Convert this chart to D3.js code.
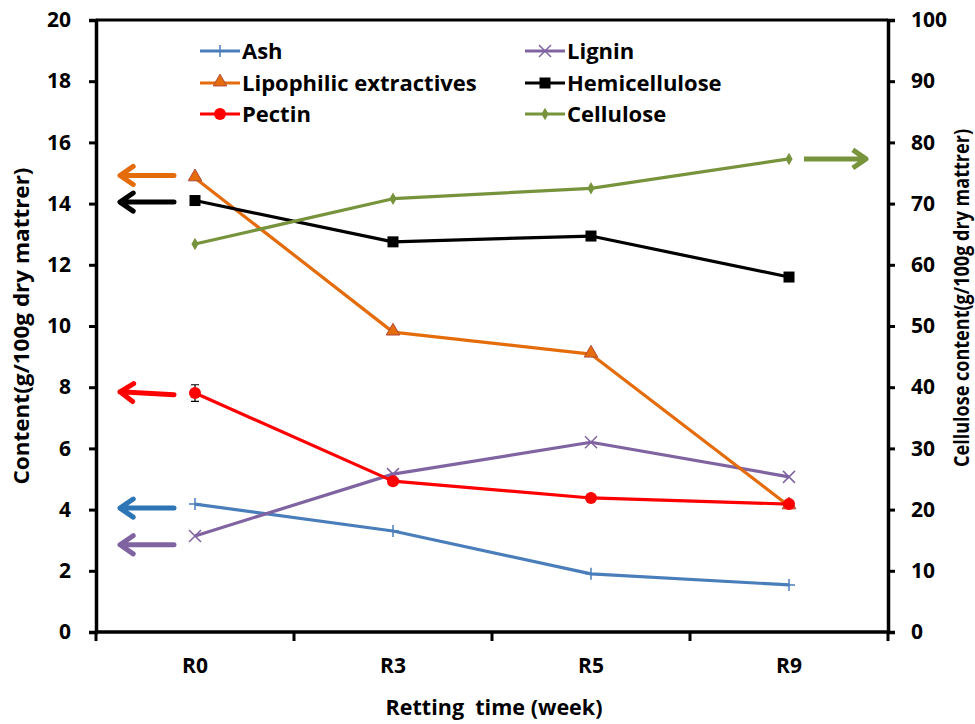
<!DOCTYPE html>
<html>
<head>
<meta charset="utf-8">
<script src="https://cdn.jsdelivr.net/npm/d3@7"></script>
<style>
  body { margin: 0; background: #fff; }
  svg text { font-family: "Open Sans", Lato, sans-serif; font-weight: bold; fill: #000; }
</style>
</head>
<body>
<div id="chart"></div>
<script>
var categories = ["R0", "R3", "R5", "R9"];
var ash = [4.18, 3.3, 1.9, 1.54];
var lignin = [3.14, 5.16, 6.2, 5.07];
var lipophilic = [14.84, 9.8, 9.08, 4.12];
var hemicellulose = [14.1, 12.75, 12.94, 11.6];
var pectin = [7.81, 4.93, 4.38, 4.18];
var pectinErr = [0.27, 0, 0, 0];
var cellulose = [63.4, 70.8, 72.5, 77.3];
var leftTicks = [0, 2, 4, 6, 8, 10, 12, 14, 16, 18, 20];
var rightTicks = [0, 10, 20, 30, 40, 50, 60, 70, 80, 90, 100];

// arrows next to the first / last points (value on the matching axis)
var leftArrows = [
    {color: "#E46C0A", from: 14.92, to: 14.92},
    {color: "#000000", from: 14.05, to: 14.05},
    {color: "#FF0000", from: 7.75, to: 7.85},
    {color: "#2E75B6", from: 4.05, to: 4.05},
    {color: "#8064A2", from: 2.85, to: 2.85}
];
var rightArrow = {color: "#77933C", value: 77.3};

var series = [
    {name: "Ash", values: ash, color: "#4A7EBB", symbol: "plus", axis: "left"},
    {name: "Lignin", values: lignin, color: "#8064A2", symbol: "cross", axis: "left"},
    {name: "Lipophilic extractives", values: lipophilic, color: "#E46C0A", symbol: "triangle", axis: "left"},
    {name: "Hemicellulose", values: hemicellulose, color: "#000000", symbol: "square", axis: "left"},
    {name: "Pectin", values: pectin, color: "#FF0000", symbol: "circle", axis: "left"},
    {name: "Cellulose", values: cellulose, color: "#77933C", symbol: "diamond", axis: "right"}
];

var width = 975, height = 724;
var margin = {top: 20, right: 87, bottom: 92, left: 96};

var svg = d3.select("#chart").append("svg")
    .attr("width", width)
    .attr("height", height);

var x = d3.scaleBand()
    .domain(categories)
    .range([margin.left, width - margin.right]);

var yLeft = d3.scaleLinear()
    .domain([0, 20])
    .range([height - margin.bottom, margin.top]);

var yRight = d3.scaleLinear()
    .domain([0, 100])
    .range([height - margin.bottom, margin.top]);

function cx(i) { return x(categories[i]) + x.bandwidth() / 2; }

// top border
svg.append("line")
    .attr("x1", margin.left).attr("x2", width - margin.right)
    .attr("y1", margin.top).attr("y2", margin.top)
    .attr("stroke", "#000").attr("stroke-width", 3);

// left axis
var gl = svg.append("g")
    .attr("transform", "translate(" + margin.left + ",0)")
    .call(d3.axisLeft(yLeft).tickValues(leftTicks).tickSize(7).tickPadding(18));
gl.select(".domain").attr("stroke-width", 3.5);
gl.selectAll(".tick line").attr("stroke-width", 3);
gl.selectAll(".tick text").style("font-size", "21px");

// right axis
var gr = svg.append("g")
    .attr("transform", "translate(" + (width - margin.right) + ",0)")
    .call(d3.axisRight(yRight).tickValues(rightTicks).tickSize(7).tickPadding(16));
gr.select(".domain").attr("stroke-width", 3.5);
gr.selectAll(".tick line").attr("stroke-width", 3);
gr.selectAll(".tick text").style("font-size", "21px");

// bottom axis: ticks between categories
var gb = svg.append("g")
    .attr("transform", "translate(0," + (height - margin.bottom) + ")");
gb.append("line")
    .attr("x1", margin.left).attr("x2", width - margin.right)
    .attr("stroke", "#000").attr("stroke-width", 3.5);
var bounds = categories.map(function (c) { return x(c); }).concat([x.range()[1]]);
gb.selectAll(".btick").data(bounds).enter().append("line")
    .attr("x1", function (d) { return d; }).attr("x2", function (d) { return d; })
    .attr("y1", 0).attr("y2", 9)
    .attr("stroke", "#000").attr("stroke-width", 3);
gb.selectAll(".blabel").data(categories).enter().append("text")
    .attr("x", function (d) { return x(d) + x.bandwidth() / 2; })
    .attr("y", 41)
    .attr("text-anchor", "middle")
    .style("font-size", "21px")
    .text(function (d) { return d; });

// axis titles (squeezed a little, the original font is narrower)
svg.append("text")
    .attr("transform", "translate(494,715)")
    .attr("text-anchor", "middle")
    .style("font-size", "21.5px")
    .attr("xml:space", "preserve")
    .attr("textLength", 217)
    .attr("lengthAdjust", "spacingAndGlyphs")
    .text("Retting  time (week)");
svg.append("text")
    .attr("transform", "translate(29,326) rotate(-90)")
    .attr("text-anchor", "middle")
    .style("font-size", "22px")
    .attr("textLength", 317)
    .attr("lengthAdjust", "spacingAndGlyphs")
    .text("Content(g/100g dry mattrer)");
svg.append("text")
    .attr("transform", "translate(969,298) rotate(-90)")
    .attr("text-anchor", "middle")
    .style("font-size", "21px")
    .attr("textLength", 338)
    .attr("lengthAdjust", "spacingAndGlyphs")
    .text("Cellulose content(g/100g dry mattrer)");

// arrows
function arrowPath(x1, y1, x2, y2) {
    var ang = Math.atan2(y2 - y1, x2 - x1), h = 16, a = 0.6;
    return "M" + x1 + "," + y1 + "L" + x2 + "," + y2 +
        "M" + (x2 - h * Math.cos(ang - a)) + "," + (y2 - h * Math.sin(ang - a)) +
        "L" + x2 + "," + y2 +
        "L" + (x2 - h * Math.cos(ang + a)) + "," + (y2 - h * Math.sin(ang + a));
}
var ax0 = cx(0);
svg.selectAll(".larrow").data(leftArrows).enter().append("path")
    .attr("d", function (d) { return arrowPath(ax0 - 21, yLeft(d.from), ax0 - 75, yLeft(d.to)); })
    .attr("fill", "none")
    .attr("stroke", function (d) { return d.color; })
    .attr("stroke-width", 5)
    .attr("stroke-linecap", "round")
    .attr("stroke-linejoin", "round");
var ax3 = cx(3);
svg.append("path")
    .attr("d", arrowPath(ax3 + 15, yRight(rightArrow.value), ax3 + 77, yRight(rightArrow.value)))
    .attr("fill", "none")
    .attr("stroke", rightArrow.color)
    .attr("stroke-width", 5)
    .attr("stroke-linecap", "butt")
    .attr("stroke-linejoin", "round");

// markers
function drawMarker(g, sym, color, px, py, scale) {
    scale = scale || 1;
    if (sym === "plus") {
        g.append("path").attr("d", "M" + (px - 6 * scale) + "," + py + "h" + 12 * scale + "M" + px + "," + (py - 6 * scale) + "v" + 12 * scale)
            .attr("stroke", color).attr("stroke-width", 1.5).attr("fill", "none");
    } else if (sym === "cross") {
        var s = 6 * scale;
        g.append("path").attr("d", "M" + (px - s) + "," + (py - s) + "L" + (px + s) + "," + (py + s) + "M" + (px - s) + "," + (py + s) + "L" + (px + s) + "," + (py - s))
            .attr("stroke", color).attr("stroke-width", 1.5).attr("fill", "none");
    } else if (sym === "triangle") {
        g.append("path").attr("d", d3.symbol().type(d3.symbolTriangle).size(80 * scale * scale)())
            .attr("transform", "translate(" + px + "," + (py - 1) + ")")
            .attr("fill", "#E46C0A").attr("stroke", "#B24A3B").attr("stroke-width", 1);
    } else if (sym === "square") {
        g.append("rect").attr("x", px - 5.5 * scale).attr("y", py - 5.5 * scale)
            .attr("width", 11 * scale).attr("height", 11 * scale).attr("fill", color);
    } else if (sym === "circle") {
        g.append("circle").attr("cx", px).attr("cy", py).attr("r", 6 * scale).attr("fill", color);
    } else if (sym === "diamond") {
        g.append("path").attr("d", d3.symbol().type(d3.symbolDiamond).size(45 * scale * scale)())
            .attr("transform", "translate(" + px + "," + py + ")")
            .attr("fill", color);
    }
}

var line = d3.line();
series.forEach(function (s) {
    var yS = s.axis === "left" ? yLeft : yRight;
    var pts = s.values.map(function (v, i) { return [cx(i), yS(v)]; });
    var g = svg.append("g");
    g.append("path")
        .attr("d", line(pts))
        .attr("fill", "none")
        .attr("stroke", s.color)
        .attr("stroke-width", 3.2)
        .attr("stroke-linejoin", "round");
    if (s.name === "Pectin") {
        pectinErr.forEach(function (e, i) {
            if (!e) return;
            var px = cx(i);
            g.append("path")
                .attr("d", "M" + px + "," + yLeft(s.values[i] - e) + "V" + yLeft(s.values[i] + e) +
                    "M" + (px - 4) + "," + yLeft(s.values[i] - e) + "h8" +
                    "M" + (px - 4) + "," + yLeft(s.values[i] + e) + "h8")
                .attr("stroke", "#000").attr("stroke-width", 1.2).attr("fill", "none");
        });
    }
    pts.forEach(function (p) { drawMarker(g, s.symbol, s.color, p[0], p[1]); });
});

// legend
var legendCols = [200, 525];
var legendRows = [51, 83, 114];
var lg = svg.append("g");
series.forEach(function (s, i) {
    var lx = legendCols[i % 2], ly = legendRows[Math.floor(i / 2)];
    lg.append("line")
        .attr("x1", lx).attr("x2", lx + 40)
        .attr("y1", ly).attr("y2", ly)
        .attr("stroke", s.color).attr("stroke-width", 3.2);
    drawMarker(lg, s.symbol, s.color, lx + 20, ly, 1);
    lg.append("text")
        .attr("x", lx + 42)
        .attr("y", ly)
        .attr("dy", "0.35em")
        .style("font-size", "22px")
        .text(s.name);
});
</script>
</body>
</html>
